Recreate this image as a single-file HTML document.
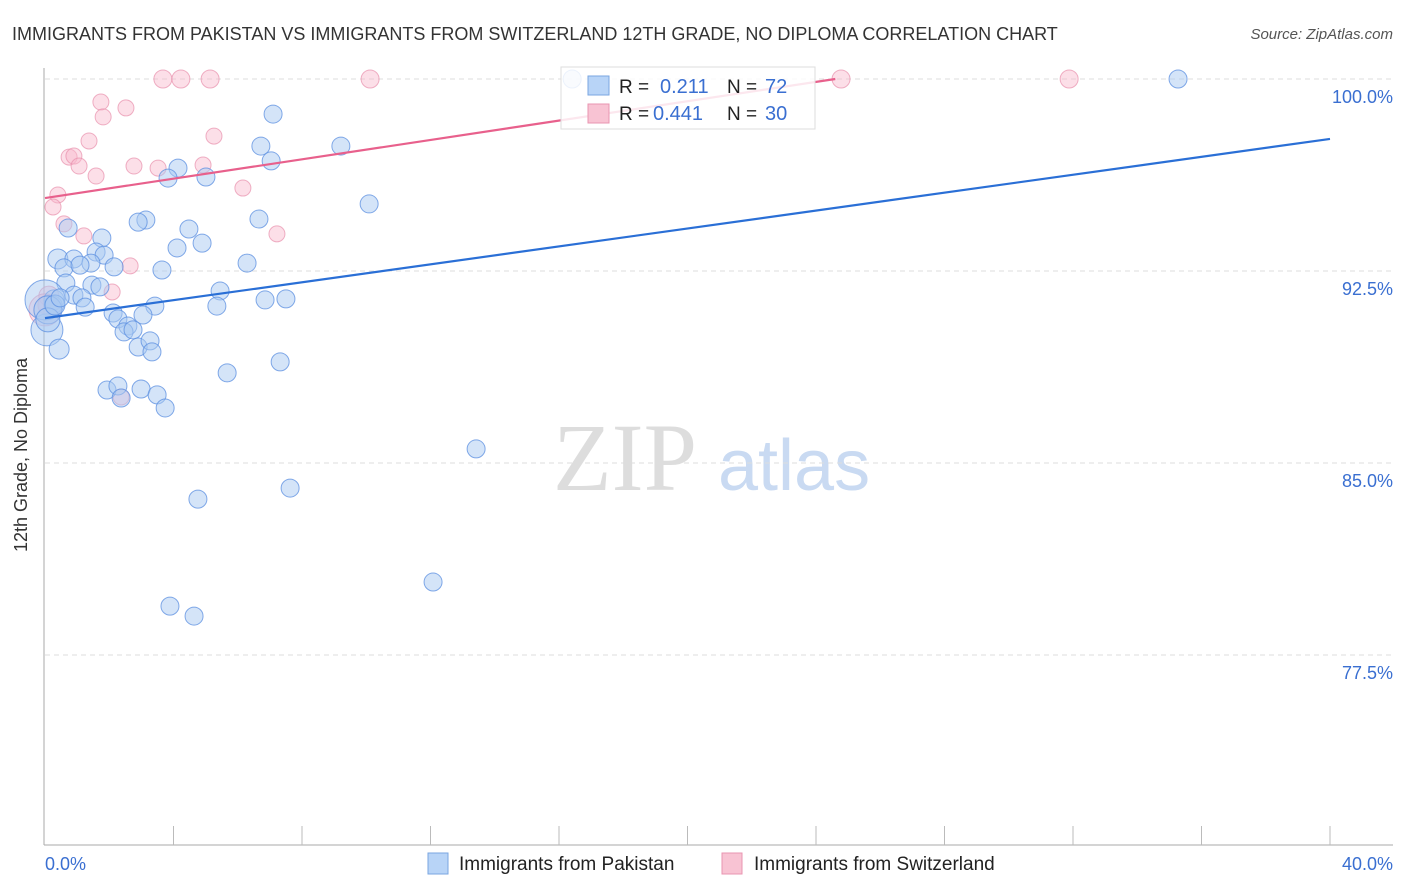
<!DOCTYPE html>
<html><head><meta charset="utf-8"><style>
body{margin:0;background:#fff;font-family:"Liberation Sans",sans-serif;}
svg{display:block}
</style></head><body>
<svg id="chart" width="1406" height="892" xmlns="http://www.w3.org/2000/svg">
<text x="12" y="40" font-size="18" fill="#333">IMMIGRANTS FROM PAKISTAN VS IMMIGRANTS FROM SWITZERLAND 12TH GRADE, NO DIPLOMA CORRELATION CHART</text>
<text x="1393" y="39" font-size="15" fill="#555" font-style="italic" text-anchor="end">Source: ZipAtlas.com</text>
<g>
<text x="553" y="490" font-family="Liberation Serif,serif" font-size="96" fill="#ddd">ZIP</text>
<text x="718" y="490" font-size="72" fill="#c9daf2">atlas</text>
</g>
<g id="grid"></g>
<g id="axes"></g>
<g id="pts"></g>
<g id="lines"></g>
<text x="27" y="455" font-size="18" fill="#333" text-anchor="middle" transform="rotate(-90 27 455)">12th Grade, No Diploma</text>
<g>
<rect x="561" y="67" width="254" height="62" fill="#fff" fill-opacity="0.85" stroke="#ddd"/>
<rect x="588" y="76" width="21" height="19" fill="#b8d4f7" stroke="#7aa6e0"/>
<rect x="588" y="104" width="21" height="19" fill="#f8c3d3" stroke="#e995b0"/>
<text x="619" y="93" font-size="19" fill="#222">R = </text><text x="660" y="93" font-size="20" fill="#3a6fd1">0.211</text>
<text x="727" y="93" font-size="19" fill="#222">N = </text><text x="765" y="93" font-size="20" fill="#3a6fd1">72</text>
<text x="619" y="120" font-size="19" fill="#222">R = </text><text x="653" y="120" font-size="20" fill="#3a6fd1">0.441</text>
<text x="727" y="120" font-size="19" fill="#222">N = </text><text x="765" y="120" font-size="20" fill="#3a6fd1">30</text>
</g>
<g>
<rect x="428" y="853" width="20" height="21" fill="#b8d4f7" stroke="#7aa6e0"/>
<text x="459" y="870" font-size="19" fill="#222">Immigrants from Pakistan</text>
<rect x="722" y="853" width="20" height="21" fill="#f8c3d3" stroke="#e995b0"/>
<text x="754" y="870" font-size="19" fill="#222">Immigrants from Switzerland</text>
</g>
</svg>
<script>
const yTicks=[100,92.5,85,77.5];
const yTickLabels=["100.0%","92.5%","85.0%","77.5%"];
const xTickLabels=["0.0%","40.0%"];
const blueX=[16.41,35.27,7.10,6.72,9.21,7.04,4.14,3.83,5.01,10.09,6.66,3.14,2.90,0.72,4.48,1.77,4.11,4.89,1.59,1.84,0.40,0.90,1.43,0.59,1.09,2.15,3.64,6.29,0.65,1.46,1.71,0.90,1.15,0.28,5.45,6.85,7.50,0.25,1.25,3.42,5.35,2.12,3.05,2.27,2.58,2.46,2.74,2.90,3.27,3.33,0.06,0.44,5.67,7.32,1.93,2.27,2.99,3.49,2.37,3.74,13.42,4.76,7.63,12.08,3.89,4.64,0,0.09,0.09,0.31,0.47];
const blueY=[100,100,98.63,97.38,97.38,96.80,96.52,96.13,96.17,95.12,94.53,94.49,94.41,94.18,94.14,93.79,93.40,93.59,93.24,93.12,92.97,92.97,92.81,92.62,92.73,92.66,92.54,92.81,92.03,91.95,91.88,91.56,91.45,91.37,91.72,91.37,91.41,91.17,91.09,91.13,91.13,90.86,90.78,90.63,90.35,90.12,90.20,89.53,89.77,89.34,90.20,89.45,88.52,88.95,87.85,88.01,87.89,87.66,87.54,87.15,85.55,83.59,84.02,80.35,79.41,79.02,91.37,90.98,90.59,91.17,91.45];
const blueR=[9,9,9,9,9,9,9,9,9,9,9,9,9,9,9,9,9,9,9,9,10,9,9,9,9,9,9,9,9,9,9,9,9,10,9,9,9,9,9,9,9,9,9,9,9,9,9,9,9,9,16,10,9,9,9,9,9,9,9,9,9,9,9,9,9,9,20,14,12,10,9];
const pinkX=[3.67,4.23,5.14,10.12,24.78,31.88,1.74,2.52,1.81,1.37,5.26,0.75,0.90,1.06,2.77,3.52,4.92,1.59,6.16,0.40,0.25,0.59,1.21,7.22,2.65,2.09,0.12,0.09,2.37,0];
const pinkY=[100,100,100,100,100,100,99.10,98.87,98.52,97.58,97.77,96.95,96.99,96.60,96.60,96.52,96.64,96.21,95.74,95.47,95.00,94.34,93.87,93.95,92.70,91.68,91.52,91.17,87.58,90.98];
const pinkR=[9,9,9,9,9,9,8,8,8,8,8,8,8,8,8,8,8,8,8,8,8,8,8,8,8,8,10,10,8,16];
const blueLine=[[0,90.66],[40,97.66]];
const pinkLine=[[0,95.35],[24.6,100]];
const NS="http://www.w3.org/2000/svg";
const sx=v=>45+v/40*1285;
const sy=v=>79+(100-v)*25.6;
function mk(t,a,p){const e=document.createElementNS(NS,t);for(const k in a)e.setAttribute(k,a[k]);p.appendChild(e);return e;}
const grid=document.getElementById('grid'),axes=document.getElementById('axes'),pts=document.getElementById('pts'),lines=document.getElementById('lines');
yTicks.forEach((t,i)=>{
 const l=mk('line',{x1:45,x2:1393,y1:sy(t),y2:sy(t),stroke:'#ddd','stroke-dasharray':'5,4'},grid);
 
 
 const tx=mk('text',{x:1393,y:sy(t)+24,'font-size':18,fill:'#3a6fd1','text-anchor':'end'},axes);
 tx.textContent=yTickLabels[i];
 
 
});
const ya=mk('line',{x1:44,x2:44,y1:68,y2:845,stroke:'#aaa'},axes);


const xa=mk('line',{x1:44,x2:1393,y1:845,y2:845,stroke:'#aaa'},axes);


for(let i=1;i<=10;i++){
 const t=mk('line',{x1:sx(i*4),x2:sx(i*4),y1:826,y2:845,stroke:'#bbb'},axes);
 
 
}
const x0=mk('text',{x:45,y:870,'font-size':18,fill:'#3a6fd1'},axes);x0.textContent=xTickLabels[0];


const x1=mk('text',{x:1393,y:870,'font-size':18,fill:'#3a6fd1','text-anchor':'end'},axes);x1.textContent=xTickLabels[1];


pinkX.forEach((v,i)=>{
 const c=mk('circle',{cx:sx(v),cy:sy(pinkY[i]),r:pinkR[i],fill:'#f8b8cc','fill-opacity':0.45,stroke:'#e890ad','stroke-opacity':0.7},pts);
 
 
});
blueX.forEach((v,i)=>{
 const c=mk('circle',{cx:sx(v),cy:sy(blueY[i]),r:blueR[i],fill:'#aac9f2','fill-opacity':0.5,stroke:'#5a8ee0','stroke-opacity':0.75},pts);
 
 
});
const bl=mk('line',{x1:sx(blueLine[0][0]),y1:sy(blueLine[0][1]),x2:sx(blueLine[1][0]),y2:sy(blueLine[1][1]),stroke:'#2a6fd6','stroke-width':2.2},lines);


const pl=mk('line',{x1:sx(pinkLine[0][0]),y1:sy(pinkLine[0][1]),x2:sx(pinkLine[1][0]),y2:sy(pinkLine[1][1]),stroke:'#e8608c','stroke-width':2.2},lines);


</script>
</body></html>
